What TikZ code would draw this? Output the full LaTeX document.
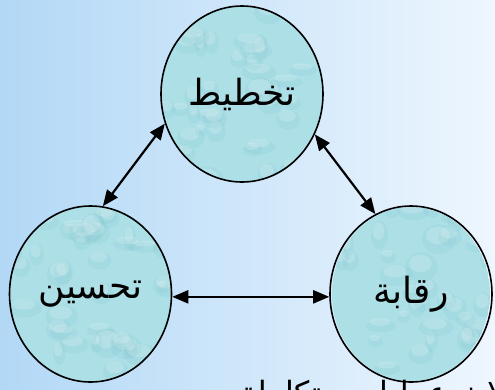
\documentclass[tikz,border=0pt]{standalone}
\usepackage{fontspec}
\usetikzlibrary{arrows.meta,shapes.geometric}
\newfontfamily\arabicfont[Script=Arabic]{DejaVu Sans}
\TeXXeTstate=1
\definecolor{bgleft}{RGB}{178,216,246}
\definecolor{bgright}{RGB}{238,246,254}
\definecolor{water}{RGB}{172,224,230}
\definecolor{waterdark}{RGB}{112,184,198}

\tikzset{
  stage/.style={ellipse, draw=black, line width=1.6pt, inner sep=0pt,
                minimum width=162pt, minimum height=176pt,
                font=\arabicfont\fontsize{36}{40}\selectfont},
  caption/.style={font=\arabicfont\fontsize{32}{36}\selectfont, inner sep=0pt},
  link/.style={{Triangle[length=16pt,width=13pt]}-{Triangle[length=16pt,width=13pt]},
               line width=2.2pt}
}

% water-drop texture inside an ellipse: centre, x radius, y radius (pt)
\newcommand\waterfill[3]{%
  \begin{scope}
    \clip #1 ellipse (#2pt and #3pt);
    \fill[water] #1 ellipse (#2pt and #3pt);
    \foreach \k in {1,...,40}{
      \pgfmathsetmacro\dx{(rnd-0.5)*2*#2}
      \pgfmathsetmacro\dy{(rnd-0.5)*2*#3}
      \pgfmathsetmacro\ra{6+rnd*12}
      \pgfmathsetmacro\rb{5+rnd*10}
      \fill[waterdark,opacity=0.12] #1 ++(\dx,\dy+2) ellipse (\ra pt and \rb pt);
      \fill[white,opacity=0.18] #1 ++(\dx-1,\dy-2) ellipse (0.7*\ra pt and 0.6*\rb pt);
    }
  \end{scope}}

\begin{document}
\begin{tikzpicture}[x=1pt,y=-1pt]
  \useasboundingbox (0,0) rectangle (495,389);
  \clip (0,0) rectangle (495,389);
  \shade[left color=bgleft, right color=bgright] (0,0) rectangle (495,389);

  \pgfmathsetseed{11}
  \waterfill{(242,94)}{81}{88}
  \waterfill{(90.5,294)}{81.5}{88}
  \waterfill{(411,294)}{79}{87}

  \node[stage] (plan) at (242,94)   {\beginR تخطيط\endR};
  \node[stage] (improve) at (90.5,294) {\beginR تحسين\endR};
  \node[stage] (control) at (411,294) {\beginR رقابة\endR};

  \draw[link] (plan.201.8) -- (improve.82.6);
  \draw[link] (plan.331.5) -- (control.114);
  \draw[link] (improve.-2) -- (control.182);

  \node[caption, anchor=base west] (summary) at (240,404)
    {\beginR ثلاث عمليات متكاملة\endR};
\end{tikzpicture}
\end{document}
